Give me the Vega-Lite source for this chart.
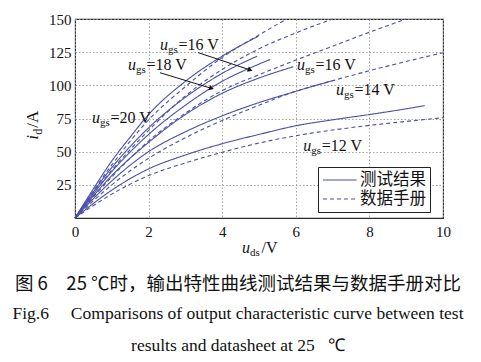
{
  "$schema": "https://vega.github.io/schema/vega-lite/v6.json",
  "width": 368,
  "height": 199,
  "autosize": "none",
  "padding": {"left": 75, "top": 19, "right": 38, "bottom": 144},
  "background": "white",
  "config": {
    "view": {"stroke": "#2a2a2a", "strokeWidth": 1.1},
    "axis": {"labelFont": "Liberation Serif", "labelFontSize": 15, "labelColor": "#111", "labelOverlap": false, "grid": true, "gridColor": "#999999", "gridDash": [1.5, 2], "gridWidth": 0.9, "domain": false, "ticks": false},
    "text": {"font": "Liberation Serif", "color": "#111"}
  },
  "title": {
    "text": "图 6\u200325 ℃时，输出特性曲线测试结果与数据手册对比",
    "subtitle": ["Fig.6\u2003 Comparisons of output characteristic curve between test", "results and datasheet at 25 \u2002℃"],
    "orient": "bottom", "anchor": "middle", "frame": "group",
    "font": "Noto Sans CJK SC", "fontSize": 18.5, "fontWeight": "normal", "color": "#111",
    "subtitleFont": "Liberation Serif", "subtitleFontSize": 17.5, "subtitleColor": "#111",
    "subtitleLineHeight": 32, "subtitlePadding": 11, "offset": 17, "dx": -21
  },
  "datasets": {
    "curves": [
      {"c": "S20", "t": "测试结果", "x": 0, "y": 0}, {"c": "S20", "t": "测试结果", "x": 0.5, "y": 22}, {"c": "S20", "t": "测试结果", "x": 1, "y": 43}, {"c": "S20", "t": "测试结果", "x": 1.5, "y": 61}, {"c": "S20", "t": "测试结果", "x": 2, "y": 78}, {"c": "S20", "t": "测试结果", "x": 3, "y": 103}, {"c": "S20", "t": "测试结果", "x": 4, "y": 122}, {"c": "S20", "t": "测试结果", "x": 4.98, "y": 137},
      {"c": "Sb", "t": "测试结果", "x": 0, "y": 0}, {"c": "Sb", "t": "测试结果", "x": 1, "y": 38}, {"c": "Sb", "t": "测试结果", "x": 2, "y": 68}, {"c": "Sb", "t": "测试结果", "x": 3, "y": 91}, {"c": "Sb", "t": "测试结果", "x": 4, "y": 109}, {"c": "Sb", "t": "测试结果", "x": 4.95, "y": 122},
      {"c": "Sc", "t": "测试结果", "x": 0, "y": 0}, {"c": "Sc", "t": "测试结果", "x": 1, "y": 35}, {"c": "Sc", "t": "测试结果", "x": 2, "y": 63}, {"c": "Sc", "t": "测试结果", "x": 3, "y": 85}, {"c": "Sc", "t": "测试结果", "x": 4, "y": 103}, {"c": "Sc", "t": "测试结果", "x": 5, "y": 116}, {"c": "Sc", "t": "测试结果", "x": 5.3, "y": 119.5},
      {"c": "Se", "t": "测试结果", "x": 0, "y": 0}, {"c": "Se", "t": "测试结果", "x": 1, "y": 32}, {"c": "Se", "t": "测试结果", "x": 2, "y": 57}, {"c": "Se", "t": "测试结果", "x": 3, "y": 78}, {"c": "Se", "t": "测试结果", "x": 4, "y": 94}, {"c": "Se", "t": "测试结果", "x": 5, "y": 105.5}, {"c": "Se", "t": "测试结果", "x": 5.93, "y": 114},
      {"c": "S14", "t": "测试结果", "x": 0, "y": 0}, {"c": "S14", "t": "测试结果", "x": 1, "y": 28}, {"c": "S14", "t": "测试结果", "x": 2, "y": 50}, {"c": "S14", "t": "测试结果", "x": 3, "y": 65}, {"c": "S14", "t": "测试结果", "x": 4, "y": 77}, {"c": "S14", "t": "测试结果", "x": 5, "y": 87}, {"c": "S14", "t": "测试结果", "x": 6, "y": 95.5}, {"c": "S14", "t": "测试结果", "x": 7.06, "y": 104},
      {"c": "S12", "t": "测试结果", "x": 0, "y": 0}, {"c": "S12", "t": "测试结果", "x": 1, "y": 21}, {"c": "S12", "t": "测试结果", "x": 2, "y": 37}, {"c": "S12", "t": "测试结果", "x": 3, "y": 47.5}, {"c": "S12", "t": "测试结果", "x": 4, "y": 56}, {"c": "S12", "t": "测试结果", "x": 5, "y": 63}, {"c": "S12", "t": "测试结果", "x": 6, "y": 69.5}, {"c": "S12", "t": "测试结果", "x": 7, "y": 74}, {"c": "S12", "t": "测试结果", "x": 8, "y": 78}, {"c": "S12", "t": "测试结果", "x": 9, "y": 82.3}, {"c": "S12", "t": "测试结果", "x": 9.5, "y": 84.7},
      {"c": "Da", "t": "数据手册", "x": 0, "y": 0}, {"c": "Da", "t": "数据手册", "x": 1, "y": 40}, {"c": "Da", "t": "数据手册", "x": 2, "y": 74}, {"c": "Da", "t": "数据手册", "x": 3, "y": 99}, {"c": "Da", "t": "数据手册", "x": 4, "y": 121}, {"c": "Da", "t": "数据手册", "x": 5, "y": 138}, {"c": "Da", "t": "数据手册", "x": 5.75, "y": 150},
      {"c": "Db", "t": "数据手册", "x": 0, "y": 0}, {"c": "Db", "t": "数据手册", "x": 1, "y": 36}, {"c": "Db", "t": "数据手册", "x": 2, "y": 66}, {"c": "Db", "t": "数据手册", "x": 3, "y": 92}, {"c": "Db", "t": "数据手册", "x": 4, "y": 112}, {"c": "Db", "t": "数据手册", "x": 5, "y": 127.5}, {"c": "Db", "t": "数据手册", "x": 6, "y": 139.5}, {"c": "Db", "t": "数据手册", "x": 7, "y": 150},
      {"c": "Dc", "t": "数据手册", "x": 0, "y": 0}, {"c": "Dc", "t": "数据手册", "x": 1, "y": 31}, {"c": "Dc", "t": "数据手册", "x": 2, "y": 58}, {"c": "Dc", "t": "数据手册", "x": 3, "y": 79}, {"c": "Dc", "t": "数据手册", "x": 4, "y": 96}, {"c": "Dc", "t": "数据手册", "x": 5, "y": 108}, {"c": "Dc", "t": "数据手册", "x": 6, "y": 119}, {"c": "Dc", "t": "数据手册", "x": 7, "y": 129.5}, {"c": "Dc", "t": "数据手册", "x": 8, "y": 140}, {"c": "Dc", "t": "数据手册", "x": 9, "y": 150},
      {"c": "D14", "t": "数据手册", "x": 0, "y": 0}, {"c": "D14", "t": "数据手册", "x": 1, "y": 25}, {"c": "D14", "t": "数据手册", "x": 2, "y": 45}, {"c": "D14", "t": "数据手册", "x": 3, "y": 60.5}, {"c": "D14", "t": "数据手册", "x": 4, "y": 73.5}, {"c": "D14", "t": "数据手册", "x": 5, "y": 85}, {"c": "D14", "t": "数据手册", "x": 6, "y": 95.5}, {"c": "D14", "t": "数据手册", "x": 7, "y": 103.5}, {"c": "D14", "t": "数据手册", "x": 8, "y": 111}, {"c": "D14", "t": "数据手册", "x": 9, "y": 118}, {"c": "D14", "t": "数据手册", "x": 10, "y": 124.6},
      {"c": "D12", "t": "数据手册", "x": 0, "y": 0}, {"c": "D12", "t": "数据手册", "x": 1, "y": 18}, {"c": "D12", "t": "数据手册", "x": 2, "y": 32}, {"c": "D12", "t": "数据手册", "x": 3, "y": 41.5}, {"c": "D12", "t": "数据手册", "x": 4, "y": 49.5}, {"c": "D12", "t": "数据手册", "x": 5, "y": 56.5}, {"c": "D12", "t": "数据手册", "x": 6, "y": 62}, {"c": "D12", "t": "数据手册", "x": 7, "y": 66.3}, {"c": "D12", "t": "数据手册", "x": 8, "y": 69.8}, {"c": "D12", "t": "数据手册", "x": 9, "y": 72.8}, {"c": "D12", "t": "数据手册", "x": 10, "y": 75.6}
    ],
    "labels": [
      {"x": 2.31, "y": 130.4, "rest": "=16 V"},
      {"x": 1.44, "y": 115.3, "rest": "=18 V"},
      {"x": 0.46, "y": 75.4, "rest": "=20 V"},
      {"x": 6.03, "y": 115.3, "rest": "=16 V"},
      {"x": 7.09, "y": 96.5, "rest": "=14 V"},
      {"x": 6.2, "y": 54.3, "rest": "=12 V"}
    ],
    "arrows": [
      {"id": "a16", "x": 3.35, "y": 124.6, "x2": 4.76, "y2": 111.6},
      {"id": "a18", "x": 2.31, "y": 109.5, "x2": 3.71, "y2": 97.7}
    ]
  },
  "layer": [
    {
      "data": {"name": "curves"},
      "mark": {"type": "line", "interpolate": "monotone", "color": "#4a50a6", "strokeWidth": 1.1},
      "encoding": {
        "x": {"field": "x", "type": "quantitative", "title": null, "scale": {"domain": [0, 10], "nice": false}, "axis": {"values": [0, 2, 4, 6, 8, 10], "labelPadding": 6, "labelFlush": false, "labelOverlap": false}},
        "y": {"field": "y", "type": "quantitative", "title": null, "scale": {"domain": [0, 150], "nice": false}, "axis": {"values": [25, 50, 75, 100, 125, 150], "labelPadding": 4, "labelFlush": false, "labelOverlap": false, "labelBound": false, "tickCount": 6}},
        "detail": {"field": "c"},
        "strokeDash": {
          "field": "t", "type": "nominal",
          "scale": {"domain": ["测试结果", "数据手册"], "range": [[1, 0], [4, 3]]},
          "legend": {"orient": "none", "legendX": 243, "legendY": 148, "title": null, "strokeColor": "#222", "fillColor": "white", "padding": 4, "symbolType": "M-1,0H3.2", "symbolSize": 256, "symbolStrokeWidth": 1.2, "symbolStrokeColor": "#4a50a6", "labelFont": "Noto Sans CJK SC", "labelFontSize": 16.5, "labelColor": "#111", "rowPadding": 1, "labelOffset": 20}
        }
      }
    },
    {
      "data": {"name": "labels"},
      "mark": {"type": "text", "align": "left", "baseline": "middle", "fontSize": 16, "fontStyle": "italic"},
      "encoding": {"x": {"field": "x", "type": "quantitative", "title": null}, "y": {"field": "y", "type": "quantitative", "title": null}, "text": {"value": "u"}}
    },
    {
      "data": {"name": "labels"},
      "mark": {"type": "text", "align": "left", "baseline": "middle", "fontSize": 11, "dx": 8, "dy": 5},
      "encoding": {"x": {"field": "x", "type": "quantitative", "title": null}, "y": {"field": "y", "type": "quantitative", "title": null}, "text": {"value": "gs"}}
    },
    {
      "data": {"name": "labels"},
      "mark": {"type": "text", "align": "left", "baseline": "middle", "fontSize": 16, "dx": 18.5},
      "encoding": {"x": {"field": "x", "type": "quantitative", "title": null}, "y": {"field": "y", "type": "quantitative", "title": null}, "text": {"field": "rest"}}
    },
    {
      "data": {"name": "arrows"},
      "mark": {"type": "rule", "color": "#111", "strokeWidth": 1},
      "encoding": {"x": {"field": "x", "type": "quantitative", "title": null}, "y": {"field": "y", "type": "quantitative", "title": null}, "x2": {"field": "x2"}, "y2": {"field": "y2"}}
    },
    {
      "data": {"name": "arrows"},
      "transform": [{"filter": "datum.id === 'a16'"}],
      "mark": {"type": "point", "shape": "triangle-right", "filled": true, "color": "#111", "size": 30, "angle": 18.4, "opacity": 1},
      "encoding": {"x": {"field": "x2", "type": "quantitative", "title": null}, "y": {"field": "y2", "type": "quantitative", "title": null}}
    },
    {
      "data": {"name": "arrows"},
      "transform": [{"filter": "datum.id === 'a18'"}],
      "mark": {"type": "point", "shape": "triangle-right", "filled": true, "color": "#111", "size": 30, "angle": 16.9, "opacity": 1},
      "encoding": {"x": {"field": "x2", "type": "quantitative", "title": null}, "y": {"field": "y2", "type": "quantitative", "title": null}}
    },
    {
      "data": {"values": [{"u": "u", "s": "ds", "r": "/V"}]},
      "layer": [
        {"mark": {"type": "text", "align": "left", "baseline": "middle", "fontSize": 16, "fontStyle": "italic", "dy": 30, "clip": false}, "encoding": {"x": {"datum": 4.54, "type": "quantitative"}, "y": {"datum": 0, "type": "quantitative"}, "text": {"field": "u"}}},
        {"mark": {"type": "text", "align": "left", "baseline": "middle", "fontSize": 11, "dx": 8, "dy": 35, "clip": false}, "encoding": {"x": {"datum": 4.54, "type": "quantitative"}, "y": {"datum": 0, "type": "quantitative"}, "text": {"field": "s"}}},
        {"mark": {"type": "text", "align": "left", "baseline": "middle", "fontSize": 16, "dx": 19.5, "dy": 30, "clip": false}, "encoding": {"x": {"datum": 4.54, "type": "quantitative"}, "y": {"datum": 0, "type": "quantitative"}, "text": {"field": "r"}}}
      ]
    },
    {
      "data": {"values": [{"u": "i", "s": "d", "r": "/A"}]},
      "layer": [
        {"mark": {"type": "text", "align": "left", "baseline": "middle", "fontSize": 17, "fontStyle": "italic", "angle": 270, "dy": -42, "clip": false}, "encoding": {"x": {"datum": 0, "type": "quantitative"}, "y": {"datum": 59, "type": "quantitative"}, "text": {"field": "u"}}},
        {"mark": {"type": "text", "align": "left", "baseline": "middle", "fontSize": 12, "angle": 270, "dx": 5, "dy": -37, "clip": false}, "encoding": {"x": {"datum": 0, "type": "quantitative"}, "y": {"datum": 59, "type": "quantitative"}, "text": {"field": "s"}}},
        {"mark": {"type": "text", "align": "left", "baseline": "middle", "fontSize": 17, "angle": 270, "dx": 12, "dy": -42, "clip": false}, "encoding": {"x": {"datum": 0, "type": "quantitative"}, "y": {"datum": 59, "type": "quantitative"}, "text": {"field": "r"}}}
      ]
    }
  ]
}
